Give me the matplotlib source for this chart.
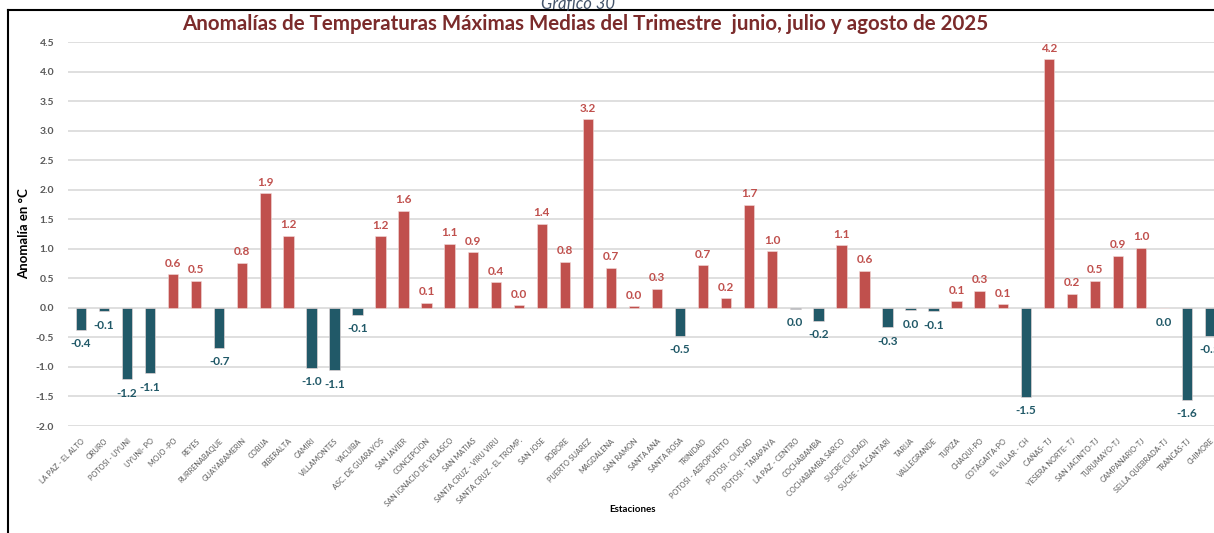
import numpy as np
import matplotlib
matplotlib.use('Agg')
import matplotlib.pyplot as plt
from matplotlib.lines import Line2D

plt.rcParams['font.family'] = ['Lato', 'DejaVu Sans']

estaciones = [
    'LA PAZ - EL ALTO', 'ORURO', 'POTOSI - UYUNI', 'UYUNI- PO', 'MOJO -PO',
    'REYES', 'RURRENABAQUE', 'GUAYARAMERIN', 'COBIJA', 'RIBERALTA',
    'CAMIRI', 'VILLAMONTES', 'YACUIBA', 'ASC. DE GUARAYOS', 'SAN JAVIER',
    'CONCEPCION', 'SAN IGNACIO DE VELASCO', 'SAN MATIAS', 'SANTA CRUZ - VIRU VIRU',
    'SANTA CRUZ - EL TROMP.', 'SAN JOSE', 'ROBORE', 'PUERTO SUAREZ', 'MAGDALENA',
    'SAN RAMON', 'SANTA ANA', 'SANTA ROSA', 'TRINIDAD', 'POTOSI - AEROPUERTO',
    'POTOSI - CIUDAD', 'POTOSI - TARAPAYA', 'LA PAZ - CENTRO', 'COCHABAMBA',
    'COCHABAMBA SARCO', 'SUCRE (CIUDAD)', 'SUCRE - ALCANTARI', 'TARIJA',
    'VALLEGRANDE', 'TUPIZA', 'CHAQUI-PO', 'COTAGAITA-PO', 'EL VILLAR - CH',
    'CAÑAS- TJ', 'YESERA NORTE- TJ', 'SAN JACINTO-TJ', 'TURUMAYO-TJ',
    'CAMPANARIO-TJ', 'SELLA QUEBRADA-TJ', 'TRANCAS-TJ', 'CHIMORE',
]

anomalias = [
    -0.37, -0.06, -1.21, -1.11, 0.57,
    0.46, -0.68, 0.76, 1.94, 1.22,
    -1.01, -1.06, -0.12, 1.21, 1.64,
    0.09, 1.08, 0.94, 0.43,
    0.04, 1.42, 0.78, 3.19, 0.68,
    0.03, 0.32, -0.47, 0.72, 0.16,
    1.74, 0.96, -0.02, -0.22,
    1.06, 0.63, -0.33, -0.04,
    -0.06, 0.11, 0.29, 0.06, -1.51,
    4.21, 0.24, 0.46, 0.88,
    1.02, -0.01, -1.56, -0.47,
]

ROJO = '#C0504D'
AZUL = '#215968'

fig = plt.figure(figsize=(12.14, 5.33), dpi=100)
ax = fig.add_axes([68 / 1214, 107 / 533, 1 - 68 / 1214, 384 / 533])

x = np.arange(len(estaciones))
vals = np.array(anomalias)
colores = [ROJO if v >= 0 else AZUL for v in vals]
ax.bar(x, vals, width=0.45, color=colores, edgecolor='#F2DCDB', linewidth=0.4, zorder=3)

for xi, v in zip(x, vals):
    txt = '{:.1f}'.format(v)
    if txt == '-0.0':
        txt = '0.0'
    if v >= 0:
        ax.annotate(txt, (xi, v), xytext=(0, 4), textcoords='offset points',
                    ha='center', va='bottom', fontsize=8.5, fontweight='bold', color=ROJO)
    else:
        ax.annotate(txt, (xi, v), xytext=(0, -6), textcoords='offset points',
                    ha='center', va='top', fontsize=8.5, fontweight='bold', color=AZUL)

ax.set_xlim(-0.564, 49.17)
ax.set_ylim(-2.0, 4.5)
ax.set_yticks(np.arange(-2.0, 4.51, 0.5))
ax.set_yticklabels(['{:.1f}'.format(t) for t in np.arange(-2.0, 4.51, 0.5)],
                   fontsize=7.5, fontweight='bold', color='#595959')
ax.set_xticks(x)
ax.set_xticklabels(estaciones, rotation=45, ha='right', rotation_mode='anchor',
                   fontsize=5.3, color='#595959')
ax.tick_params(axis='both', length=0)
ax.tick_params(axis='y', pad=10)
ax.tick_params(axis='x', pad=8)
ax.grid(axis='y', color='#D9D9D9', linewidth=1.2, zorder=0)
for s in ax.spines.values():
    s.set_visible(False)

ax.set_ylabel('Anomalía en °C', fontsize=9.5, fontweight='bold', color='black', labelpad=4)
fig.text(633 / 1214, 1 - 510 / 533, 'Estaciones', ha='center', va='center',
         fontsize=7, fontweight='bold', color='black')

fig.text(585 / 1214, 1 - 24 / 533,
         'Anomalías de Temperaturas Máximas Medias del Trimestre  junio, julio y agosto de 2025',
         ha='center', va='center', fontsize=14.8, fontweight='bold', color='#7B2B2B')
fig.text(578 / 1214, 1 - 4 / 533, 'Gráfico 30', ha='center', va='center',
         fontsize=12, style='italic', color='#44546A')

# marco del recuadro
fig.add_artist(Line2D([8 / 1214, 1], [1 - 10 / 533, 1 - 10 / 533], color='black', linewidth=1.5))
fig.add_artist(Line2D([8 / 1214, 8 / 1214], [0, 1 - 10 / 533], color='black', linewidth=1.5))

fig.savefig('out.png', dpi=100)
